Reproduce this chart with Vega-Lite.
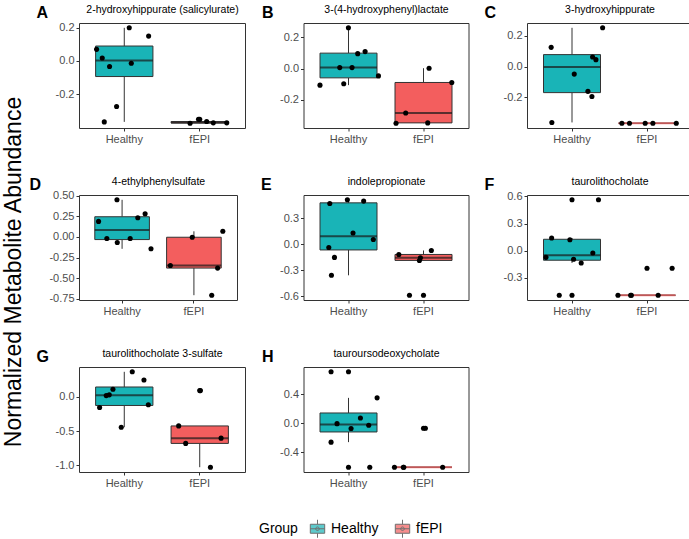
{
  "$schema": "https://vega.github.io/schema/vega-lite/v6.json",
  "padding": {"left": 2, "top": 4, "right": 3, "bottom": 3},
  "title": {"text": "Normalized Metabolite Abundance", "orient": "left", "anchor": "middle", "fontSize": 23, "fontWeight": "normal", "color": "black", "offset": 3},
  "data": {"values": [
    {"p":"A","g":"Healthy","v":0.07,"j":-0.367},
    {"p":"A","g":"Healthy","v":0.018,"j":-0.292},
    {"p":"A","g":"Healthy","v":-0.034,"j":-0.195},
    {"p":"A","g":"Healthy","v":0.2,"j":0.066},
    {"p":"A","g":"Healthy","v":0.15,"j":0.323},
    {"p":"A","g":"Healthy","v":-0.014,"j":0.093},
    {"p":"A","g":"Healthy","v":-0.275,"j":-0.102},
    {"p":"A","g":"Healthy","v":-0.368,"j":-0.265},
    {"p":"A","g":"fEPI","v":-0.376,"j":-0.128},
    {"p":"A","g":"fEPI","v":-0.352,"j":-0.016},
    {"p":"A","g":"fEPI","v":-0.366,"j":0.092},
    {"p":"A","g":"fEPI","v":-0.374,"j":0.18},
    {"p":"A","g":"fEPI","v":-0.374,"j":0.358},
    {"p":"B","g":"Healthy","v":-0.106,"j":-0.381},
    {"p":"B","g":"Healthy","v":0.006,"j":-0.119},
    {"p":"B","g":"Healthy","v":-0.097,"j":-0.066},
    {"p":"B","g":"Healthy","v":0.006,"j":0.044},
    {"p":"B","g":"Healthy","v":0.095,"j":0.119},
    {"p":"B","g":"Healthy","v":0.108,"j":0.217},
    {"p":"B","g":"Healthy","v":-0.047,"j":0.394},
    {"p":"B","g":"Healthy","v":0.26,"j":-0.004},
    {"p":"B","g":"fEPI","v":-0.349,"j":-0.367},
    {"p":"B","g":"fEPI","v":-0.284,"j":-0.239},
    {"p":"B","g":"fEPI","v":-0.347,"j":0.053},
    {"p":"B","g":"fEPI","v":0.002,"j":0.071},
    {"p":"B","g":"fEPI","v":-0.089,"j":0.372},
    {"p":"C","g":"Healthy","v":0.125,"j":-0.279},
    {"p":"C","g":"Healthy","v":-0.049,"j":0.027},
    {"p":"C","g":"Healthy","v":-0.161,"j":0.208},
    {"p":"C","g":"Healthy","v":-0.194,"j":0.261},
    {"p":"C","g":"Healthy","v":0.062,"j":0.27},
    {"p":"C","g":"Healthy","v":0.045,"j":0.314},
    {"p":"C","g":"Healthy","v":0.252,"j":0.403},
    {"p":"C","g":"Healthy","v":-0.363,"j":-0.27},
    {"p":"C","g":"fEPI","v":-0.368,"j":-0.336},
    {"p":"C","g":"fEPI","v":-0.368,"j":-0.235},
    {"p":"C","g":"fEPI","v":-0.368,"j":-0.027},
    {"p":"C","g":"fEPI","v":-0.368,"j":0.075},
    {"p":"C","g":"fEPI","v":-0.368,"j":0.385},
    {"p":"D","g":"Healthy","v":0.188,"j":-0.336},
    {"p":"D","g":"Healthy","v":-0.02,"j":-0.226},
    {"p":"D","g":"Healthy","v":0.449,"j":-0.092},
    {"p":"D","g":"Healthy","v":-0.068,"j":-0.088},
    {"p":"D","g":"Healthy","v":-0.02,"j":0.083},
    {"p":"D","g":"Healthy","v":0.232,"j":0.184},
    {"p":"D","g":"Healthy","v":0.28,"j":0.281},
    {"p":"D","g":"Healthy","v":-0.144,"j":0.359},
    {"p":"D","g":"fEPI","v":-0.345,"j":-0.336},
    {"p":"D","g":"fEPI","v":-0.004,"j":-0.046},
    {"p":"D","g":"fEPI","v":-0.377,"j":0.29},
    {"p":"D","g":"fEPI","v":0.068,"j":0.359},
    {"p":"D","g":"fEPI","v":-0.705,"j":0.212},
    {"p":"E","g":"Healthy","v":0.471,"j":-0.251},
    {"p":"E","g":"Healthy","v":0.513,"j":-0.018},
    {"p":"E","g":"Healthy","v":0.498,"j":0.198},
    {"p":"E","g":"Healthy","v":0.13,"j":0.057},
    {"p":"E","g":"Healthy","v":0.054,"j":0.326},
    {"p":"E","g":"Healthy","v":-0.038,"j":-0.264},
    {"p":"E","g":"Healthy","v":-0.153,"j":-0.189},
    {"p":"E","g":"Healthy","v":-0.36,"j":-0.229},
    {"p":"E","g":"fEPI","v":-0.119,"j":-0.33},
    {"p":"E","g":"fEPI","v":-0.188,"j":-0.057},
    {"p":"E","g":"fEPI","v":-0.157,"j":-0.044},
    {"p":"E","g":"fEPI","v":-0.073,"j":0.101},
    {"p":"E","g":"fEPI","v":-0.59,"j":-0.189},
    {"p":"F","g":"Healthy","v":-0.074,"j":-0.348},
    {"p":"F","g":"Healthy","v":0.14,"j":-0.273},
    {"p":"F","g":"Healthy","v":0.121,"j":-0.031},
    {"p":"F","g":"Healthy","v":0.5625,"j":0.348},
    {"p":"F","g":"Healthy","v":-0.096,"j":0.018},
    {"p":"F","g":"Healthy","v":-0.136,"j":0.119},
    {"p":"F","g":"Healthy","v":-0.026,"j":0.273},
    {"p":"F","g":"Healthy","v":-0.493,"j":-0.172},
    {"p":"F","g":"fEPI","v":-0.493,"j":-0.388},
    {"p":"F","g":"fEPI","v":-0.493,"j":-0.22},
    {"p":"F","g":"fEPI","v":-0.493,"j":0.145},
    {"p":"F","g":"fEPI","v":-0.493,"j":-0.21},
    {"p":"F","g":"fEPI","v":-0.195,"j":0.33},
    {"p":"G","g":"Healthy","v":-0.155,"j":-0.327},
    {"p":"G","g":"Healthy","v":0.019,"j":-0.239},
    {"p":"G","g":"Healthy","v":0.03,"j":-0.199},
    {"p":"G","g":"Healthy","v":0.111,"j":-0.15},
    {"p":"G","g":"Healthy","v":0.367,"j":0.106},
    {"p":"G","g":"Healthy","v":0.246,"j":0.261},
    {"p":"G","g":"Healthy","v":-0.116,"j":0.319},
    {"p":"G","g":"Healthy","v":-0.444,"j":-0.04},
    {"p":"G","g":"fEPI","v":-0.425,"j":-0.279},
    {"p":"G","g":"fEPI","v":-0.681,"j":-0.186},
    {"p":"G","g":"fEPI","v":0.092,"j":0.009},
    {"p":"G","g":"fEPI","v":-0.604,"j":0.283},
    {"p":"G","g":"fEPI","v":-1.029,"j":0.142},
    {"p":"H","g":"Healthy","v":0.713,"j":-0.234},
    {"p":"H","g":"Healthy","v":0.352,"j":0.376},
    {"p":"H","g":"Healthy","v":0.073,"j":0.155},
    {"p":"H","g":"Healthy","v":-0.005,"j":-0.155},
    {"p":"H","g":"Healthy","v":-0.073,"j":0.031},
    {"p":"H","g":"Healthy","v":-0.027,"j":0.265},
    {"p":"H","g":"Healthy","v":-0.261,"j":-0.234},
    {"p":"H","g":"Healthy","v":-0.608,"j":0.279},
    {"p":"H","g":"fEPI","v":-0.608,"j":-0.388},
    {"p":"H","g":"fEPI","v":-0.608,"j":-0.264},
    {"p":"H","g":"fEPI","v":-0.608,"j":0.251},
    {"p":"H","g":"fEPI","v":-0.608,"j":-0.27},
    {"p":"H","g":"fEPI","v":-0.069,"j":0.022}
  ]},
  "columns": 3,
  "spacing": {"row": 31, "column": 13.5},
  "resolve": {"scale": {"color": "shared"}, "legend": {"color": "shared"}},
  "concat": [
    {
      "width": 166, "height": 105,
      "transform": [{"filter": "datum.p === 'A'"}],
      "encoding": {"y": {"field": "v", "type": "quantitative", "scale": {"zero": false, "nice": false, "padding": 4.8},
        "axis": {"title": "A", "values": [-0.2, 0, 0.2], "format": ".1f", "titleAngle": 0, "titleAlign": "left", "titleBaseline": "alphabetic", "titleX": -43, "titleY": -5.5, "titleFontSize": 16, "titleFontWeight": "bold", "titleColor": "black"}}},
      "resolve": {"axis": {"x": "independent"}},
      "layer": [
        {"mark": {"type": "boxplot", "extent": 1.5, "size": 57.3, "outliers": false, "ticks": false, "box": {"stroke": "#333333", "strokeWidth": 1}, "median": {"color": "#1a1a1a", "thickness": 2}, "rule": {"color": "#333333", "strokeWidth": 1}},
         "encoding": {"x": {"field": "g", "type": "nominal", "scale": {"domain": ["Healthy", "fEPI"], "paddingInner": 0, "paddingOuter": 0.1}, "axis": {"title": null, "labelAngle": 0}},
           "color": {"field": "g", "type": "nominal", "title": "Group", "scale": {"domain": ["Healthy", "fEPI"], "range": ["#19B4B7", "#F35E5E"]}}}},
        {"mark": {"type": "boxplot", "extent": 1.5, "size": 57.3, "box": false, "median": false, "rule": false, "ticks": false, "outliers": {"color": "black", "filled": true, "size": 26, "opacity": 1}},
         "encoding": {"x": {"field": "g", "type": "nominal", "axis": null}}},
        {"mark": {"type": "circle", "size": 26, "color": "black", "opacity": 1},
         "encoding": {"x": {"field": "g", "type": "nominal", "axis": {"orient": "top", "labels": false, "ticks": false, "domain": false, "title": "2-hydroxyhippurate (salicylurate)", "titleFontSize": 10.5, "titleFontWeight": "normal", "titleColor": "black", "titleBaseline": "alphabetic", "titleAlign": "center", "titleX": 83, "titleY": -10.5}},
           "xOffset": {"field": "j", "type": "quantitative", "scale": {"domain": [-0.5, 0.5], "range": [0, 75.45]}}}}
      ]
    },
    {
      "width": 165, "height": 105,
      "transform": [{"filter": "datum.p === 'B'"}],
      "encoding": {"y": {"field": "v", "type": "quantitative", "scale": {"zero": false, "nice": false, "padding": 4.8},
        "axis": {"title": "B", "values": [-0.2, 0, 0.2], "format": ".1f", "titleAngle": 0, "titleAlign": "left", "titleBaseline": "alphabetic", "titleX": -42, "titleY": -5.5, "titleFontSize": 16, "titleFontWeight": "bold", "titleColor": "black"}}},
      "resolve": {"axis": {"x": "independent"}},
      "layer": [
        {"mark": {"type": "boxplot", "extent": 1.5, "size": 57, "outliers": false, "ticks": false, "box": {"stroke": "#333333", "strokeWidth": 1}, "median": {"color": "#1a1a1a", "thickness": 2}, "rule": {"color": "#333333", "strokeWidth": 1}},
         "encoding": {"x": {"field": "g", "type": "nominal", "scale": {"domain": ["Healthy", "fEPI"], "paddingInner": 0, "paddingOuter": 0.1}, "axis": {"title": null, "labelAngle": 0}},
           "color": {"field": "g", "type": "nominal", "title": "Group", "scale": {"domain": ["Healthy", "fEPI"], "range": ["#19B4B7", "#F35E5E"]}}}},
        {"mark": {"type": "boxplot", "extent": 1.5, "size": 57, "box": false, "median": false, "rule": false, "ticks": false, "outliers": {"color": "black", "filled": true, "size": 26, "opacity": 1}},
         "encoding": {"x": {"field": "g", "type": "nominal", "axis": null}}},
        {"mark": {"type": "circle", "size": 26, "color": "black", "opacity": 1},
         "encoding": {"x": {"field": "g", "type": "nominal", "axis": {"orient": "top", "labels": false, "ticks": false, "domain": false, "title": "3-(4-hydroxyphenyl)lactate", "titleFontSize": 10.5, "titleFontWeight": "normal", "titleColor": "black", "titleBaseline": "alphabetic", "titleAlign": "center", "titleX": 82.5, "titleY": -10.5}},
           "xOffset": {"field": "j", "type": "quantitative", "scale": {"domain": [-0.5, 0.5], "range": [0, 75]}}}}
      ]
    },
    {
      "width": 165, "height": 105,
      "transform": [{"filter": "datum.p === 'C'"}],
      "encoding": {"y": {"field": "v", "type": "quantitative", "scale": {"zero": false, "nice": false, "padding": 4.8},
        "axis": {"title": "C", "values": [-0.2, 0, 0.2], "format": ".1f", "titleAngle": 0, "titleAlign": "left", "titleBaseline": "alphabetic", "titleX": -43, "titleY": -5.5, "titleFontSize": 16, "titleFontWeight": "bold", "titleColor": "black"}}},
      "resolve": {"axis": {"x": "independent"}},
      "layer": [
        {"mark": {"type": "boxplot", "extent": 1.5, "size": 57, "outliers": false, "ticks": false, "box": {"stroke": "#333333", "strokeWidth": 1}, "median": {"color": "#1a1a1a", "thickness": 2}, "rule": {"color": "#333333", "strokeWidth": 1}},
         "encoding": {"x": {"field": "g", "type": "nominal", "scale": {"domain": ["Healthy", "fEPI"], "paddingInner": 0, "paddingOuter": 0.1}, "axis": {"title": null, "labelAngle": 0}},
           "color": {"field": "g", "type": "nominal", "title": "Group", "scale": {"domain": ["Healthy", "fEPI"], "range": ["#19B4B7", "#F35E5E"]}}}},
        {"mark": {"type": "boxplot", "extent": 1.5, "size": 57, "box": false, "median": false, "rule": false, "ticks": false, "outliers": {"color": "black", "filled": true, "size": 26, "opacity": 1}},
         "encoding": {"x": {"field": "g", "type": "nominal", "axis": null}}},
        {"mark": {"type": "circle", "size": 26, "color": "black", "opacity": 1},
         "encoding": {"x": {"field": "g", "type": "nominal", "axis": {"orient": "top", "labels": false, "ticks": false, "domain": false, "title": "3-hydroxyhippurate", "titleFontSize": 10.5, "titleFontWeight": "normal", "titleColor": "black", "titleBaseline": "alphabetic", "titleAlign": "center", "titleX": 82.5, "titleY": -10.5}},
           "xOffset": {"field": "j", "type": "quantitative", "scale": {"domain": [-0.5, 0.5], "range": [0, 75]}}}}
      ]
    },
    {
      "width": 158, "height": 105,
      "transform": [{"filter": "datum.p === 'D'"}],
      "encoding": {"y": {"field": "v", "type": "quantitative", "scale": {"zero": false, "nice": false, "padding": 4.8},
        "axis": {"title": "D", "values": [-0.75, -0.5, -0.25, 0, 0.25, 0.5], "format": ".2f", "titleAngle": 0, "titleAlign": "left", "titleBaseline": "alphabetic", "titleX": -50, "titleY": -5.5, "titleFontSize": 16, "titleFontWeight": "bold", "titleColor": "black"}}},
      "resolve": {"axis": {"x": "independent"}},
      "layer": [
        {"mark": {"type": "boxplot", "extent": 1.5, "size": 54.6, "outliers": false, "ticks": false, "box": {"stroke": "#333333", "strokeWidth": 1}, "median": {"color": "#1a1a1a", "thickness": 2}, "rule": {"color": "#333333", "strokeWidth": 1}},
         "encoding": {"x": {"field": "g", "type": "nominal", "scale": {"domain": ["Healthy", "fEPI"], "paddingInner": 0, "paddingOuter": 0.1}, "axis": {"title": null, "labelAngle": 0}},
           "color": {"field": "g", "type": "nominal", "title": "Group", "scale": {"domain": ["Healthy", "fEPI"], "range": ["#19B4B7", "#F35E5E"]}}}},
        {"mark": {"type": "boxplot", "extent": 1.5, "size": 54.6, "box": false, "median": false, "rule": false, "ticks": false, "outliers": {"color": "black", "filled": true, "size": 26, "opacity": 1}},
         "encoding": {"x": {"field": "g", "type": "nominal", "axis": null}}},
        {"mark": {"type": "circle", "size": 26, "color": "black", "opacity": 1},
         "encoding": {"x": {"field": "g", "type": "nominal", "axis": {"orient": "top", "labels": false, "ticks": false, "domain": false, "title": "4-ethylphenylsulfate", "titleFontSize": 10.5, "titleFontWeight": "normal", "titleColor": "black", "titleBaseline": "alphabetic", "titleAlign": "center", "titleX": 79, "titleY": -10.5}},
           "xOffset": {"field": "j", "type": "quantitative", "scale": {"domain": [-0.5, 0.5], "range": [0, 71.8]}}}}
      ]
    },
    {
      "width": 165, "height": 105,
      "transform": [{"filter": "datum.p === 'E'"}],
      "encoding": {"y": {"field": "v", "type": "quantitative", "scale": {"zero": false, "nice": false, "padding": 4.8},
        "axis": {"title": "E", "values": [-0.6, -0.3, 0, 0.3], "format": ".1f", "titleAngle": 0, "titleAlign": "left", "titleBaseline": "alphabetic", "titleX": -43, "titleY": -5.5, "titleFontSize": 16, "titleFontWeight": "bold", "titleColor": "black"}}},
      "resolve": {"axis": {"x": "independent"}},
      "layer": [
        {"mark": {"type": "boxplot", "extent": 1.5, "size": 57, "outliers": false, "ticks": false, "box": {"stroke": "#333333", "strokeWidth": 1}, "median": {"color": "#1a1a1a", "thickness": 2}, "rule": {"color": "#333333", "strokeWidth": 1}},
         "encoding": {"x": {"field": "g", "type": "nominal", "scale": {"domain": ["Healthy", "fEPI"], "paddingInner": 0, "paddingOuter": 0.1}, "axis": {"title": null, "labelAngle": 0}},
           "color": {"field": "g", "type": "nominal", "title": "Group", "scale": {"domain": ["Healthy", "fEPI"], "range": ["#19B4B7", "#F35E5E"]}}}},
        {"mark": {"type": "boxplot", "extent": 1.5, "size": 57, "box": false, "median": false, "rule": false, "ticks": false, "outliers": {"color": "black", "filled": true, "size": 26, "opacity": 1}},
         "encoding": {"x": {"field": "g", "type": "nominal", "axis": null}}},
        {"mark": {"type": "circle", "size": 26, "color": "black", "opacity": 1},
         "encoding": {"x": {"field": "g", "type": "nominal", "axis": {"orient": "top", "labels": false, "ticks": false, "domain": false, "title": "indolepropionate", "titleFontSize": 10.5, "titleFontWeight": "normal", "titleColor": "black", "titleBaseline": "alphabetic", "titleAlign": "center", "titleX": 82.5, "titleY": -10.5}},
           "xOffset": {"field": "j", "type": "quantitative", "scale": {"domain": [-0.5, 0.5], "range": [0, 75]}}}}
      ]
    },
    {
      "width": 165, "height": 105,
      "transform": [{"filter": "datum.p === 'F'"}],
      "encoding": {"y": {"field": "v", "type": "quantitative", "scale": {"zero": false, "nice": false, "padding": 4.8},
        "axis": {"title": "F", "values": [-0.3, 0, 0.3, 0.6], "format": ".1f", "titleAngle": 0, "titleAlign": "left", "titleBaseline": "alphabetic", "titleX": -43, "titleY": -5.5, "titleFontSize": 16, "titleFontWeight": "bold", "titleColor": "black"}}},
      "resolve": {"axis": {"x": "independent"}},
      "layer": [
        {"mark": {"type": "boxplot", "extent": 1.5, "size": 57, "outliers": false, "ticks": false, "box": {"stroke": "#333333", "strokeWidth": 1}, "median": {"color": "#1a1a1a", "thickness": 2}, "rule": {"color": "#333333", "strokeWidth": 1}},
         "encoding": {"x": {"field": "g", "type": "nominal", "scale": {"domain": ["Healthy", "fEPI"], "paddingInner": 0, "paddingOuter": 0.1}, "axis": {"title": null, "labelAngle": 0}},
           "color": {"field": "g", "type": "nominal", "title": "Group", "scale": {"domain": ["Healthy", "fEPI"], "range": ["#19B4B7", "#F35E5E"]}}}},
        {"mark": {"type": "boxplot", "extent": 1.5, "size": 57, "box": false, "median": false, "rule": false, "ticks": false, "outliers": {"color": "black", "filled": true, "size": 26, "opacity": 1}},
         "encoding": {"x": {"field": "g", "type": "nominal", "axis": null}}},
        {"mark": {"type": "circle", "size": 26, "color": "black", "opacity": 1},
         "encoding": {"x": {"field": "g", "type": "nominal", "axis": {"orient": "top", "labels": false, "ticks": false, "domain": false, "title": "taurolithocholate", "titleFontSize": 10.5, "titleFontWeight": "normal", "titleColor": "black", "titleBaseline": "alphabetic", "titleAlign": "center", "titleX": 82.5, "titleY": -10.5}},
           "xOffset": {"field": "j", "type": "quantitative", "scale": {"domain": [-0.5, 0.5], "range": [0, 75]}}}}
      ]
    },
    {
      "width": 166, "height": 105,
      "transform": [{"filter": "datum.p === 'G'"}],
      "encoding": {"y": {"field": "v", "type": "quantitative", "scale": {"zero": false, "nice": false, "padding": 4.8},
        "axis": {"title": "G", "values": [-1, -0.5, 0], "format": ".1f", "titleAngle": 0, "titleAlign": "left", "titleBaseline": "alphabetic", "titleX": -43, "titleY": -5.5, "titleFontSize": 16, "titleFontWeight": "bold", "titleColor": "black"}}},
      "resolve": {"axis": {"x": "independent"}},
      "layer": [
        {"mark": {"type": "boxplot", "extent": 1.5, "size": 57.3, "outliers": false, "ticks": false, "box": {"stroke": "#333333", "strokeWidth": 1}, "median": {"color": "#1a1a1a", "thickness": 2}, "rule": {"color": "#333333", "strokeWidth": 1}},
         "encoding": {"x": {"field": "g", "type": "nominal", "scale": {"domain": ["Healthy", "fEPI"], "paddingInner": 0, "paddingOuter": 0.1}, "axis": {"title": null, "labelAngle": 0}},
           "color": {"field": "g", "type": "nominal", "title": "Group", "scale": {"domain": ["Healthy", "fEPI"], "range": ["#19B4B7", "#F35E5E"]}}}},
        {"mark": {"type": "boxplot", "extent": 1.5, "size": 57.3, "box": false, "median": false, "rule": false, "ticks": false, "outliers": {"color": "black", "filled": true, "size": 26, "opacity": 1}},
         "encoding": {"x": {"field": "g", "type": "nominal", "axis": null}}},
        {"mark": {"type": "circle", "size": 26, "color": "black", "opacity": 1},
         "encoding": {"x": {"field": "g", "type": "nominal", "axis": {"orient": "top", "labels": false, "ticks": false, "domain": false, "title": "taurolithocholate 3-sulfate", "titleFontSize": 10.5, "titleFontWeight": "normal", "titleColor": "black", "titleBaseline": "alphabetic", "titleAlign": "center", "titleX": 83, "titleY": -10.5}},
           "xOffset": {"field": "j", "type": "quantitative", "scale": {"domain": [-0.5, 0.5], "range": [0, 75.45]}}}}
      ]
    },
    {
      "width": 165, "height": 105,
      "transform": [{"filter": "datum.p === 'H'"}],
      "encoding": {"y": {"field": "v", "type": "quantitative", "scale": {"zero": false, "nice": false, "padding": 4.8},
        "axis": {"title": "H", "values": [-0.4, 0, 0.4], "format": ".1f", "titleAngle": 0, "titleAlign": "left", "titleBaseline": "alphabetic", "titleX": -42, "titleY": -5.5, "titleFontSize": 16, "titleFontWeight": "bold", "titleColor": "black"}}},
      "resolve": {"axis": {"x": "independent"}},
      "layer": [
        {"mark": {"type": "boxplot", "extent": 1.5, "size": 57, "outliers": false, "ticks": false, "box": {"stroke": "#333333", "strokeWidth": 1}, "median": {"color": "#1a1a1a", "thickness": 2}, "rule": {"color": "#333333", "strokeWidth": 1}},
         "encoding": {"x": {"field": "g", "type": "nominal", "scale": {"domain": ["Healthy", "fEPI"], "paddingInner": 0, "paddingOuter": 0.1}, "axis": {"title": null, "labelAngle": 0}},
           "color": {"field": "g", "type": "nominal", "title": "Group", "scale": {"domain": ["Healthy", "fEPI"], "range": ["#19B4B7", "#F35E5E"]}}}},
        {"mark": {"type": "boxplot", "extent": 1.5, "size": 57, "box": false, "median": false, "rule": false, "ticks": false, "outliers": {"color": "black", "filled": true, "size": 26, "opacity": 1}},
         "encoding": {"x": {"field": "g", "type": "nominal", "axis": null}}},
        {"mark": {"type": "circle", "size": 26, "color": "black", "opacity": 1},
         "encoding": {"x": {"field": "g", "type": "nominal", "axis": {"orient": "top", "labels": false, "ticks": false, "domain": false, "title": "tauroursodeoxycholate", "titleFontSize": 10.5, "titleFontWeight": "normal", "titleColor": "black", "titleBaseline": "alphabetic", "titleAlign": "center", "titleX": 82.5, "titleY": -10.5}},
           "xOffset": {"field": "j", "type": "quantitative", "scale": {"domain": [-0.5, 0.5], "range": [0, 75]}}}}
      ]
    }
  ],
  "config": {
    "font": "Liberation Sans",
    "view": {"stroke": "#333333", "strokeWidth": 1},
    "axis": {"domain": false, "grid": false, "tickColor": "#333333", "tickSize": 3, "labelColor": "#4d4d4d", "labelFontSize": 11, "labelPadding": 2},
    "legend": {"orient": "none", "legendX": 180, "legendY": 496, "direction": "horizontal", "titleOrient": "left", "titleFontSize": 14, "titleFontWeight": "normal", "titleColor": "black", "labelFontSize": 14, "labelColor": "black", "symbolSize": 324, "symbolType": "M-0.8,-0.5H0.8V0.5H-0.8Z M0,-1V-0.5 M0,0.5V1 M-0.8,0H0.8 M0.2,0A0.2,0.2 0 1,1 -0.2,0A0.2,0.2 0 1,1 0.2,0Z", "symbolStrokeColor": "#333333", "symbolStrokeWidth": 1, "columnPadding": 14, "titlePadding": 10},
    "locale": {"number": {"decimal": ".", "thousands": ",", "grouping": [3], "currency": ["$", ""], "minus": "-"}}
  }
}
